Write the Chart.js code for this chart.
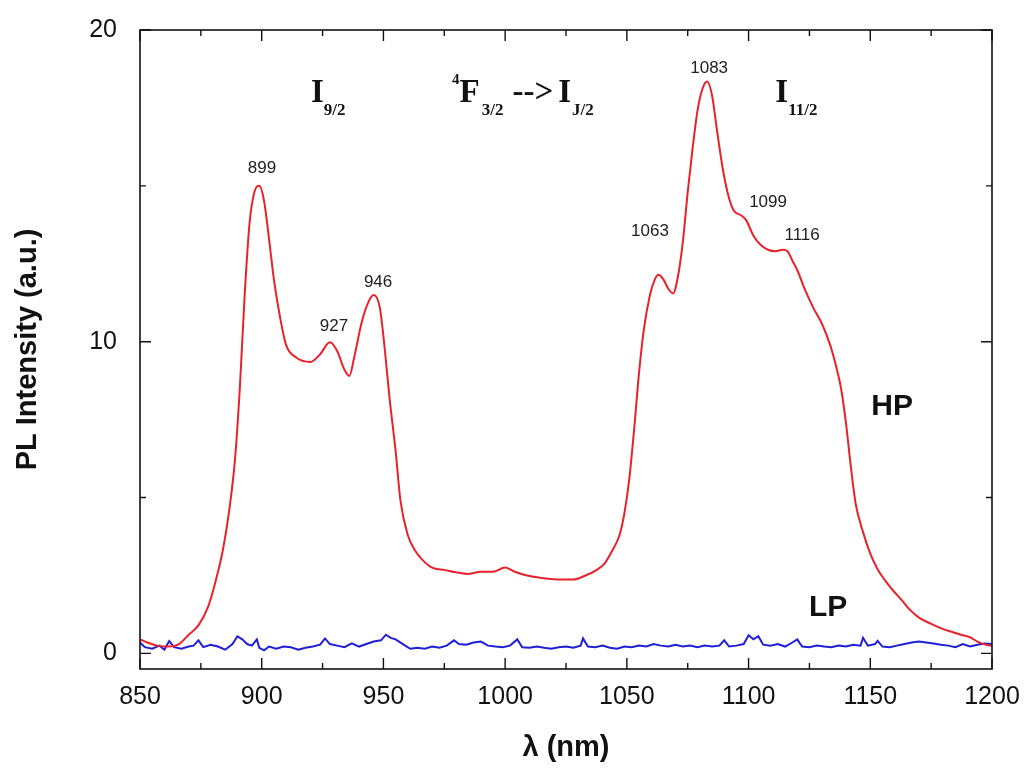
<!DOCTYPE html>
<html>
<head>
<meta charset="utf-8">
<title>PL spectrum HP / LP</title>
<script src="https://cdn.jsdelivr.net/npm/chart.js@4.4.1/dist/chart.umd.min.js"></script>
<style>
  html, body { margin: 0; padding: 0; background: #fff; }
  #wrap { position: relative; width: 1030px; height: 774px; }
</style>
</head>
<body>
<div id="wrap"><canvas id="pl"></canvas></div>
<script>
// ---- data ----
// HP spectrum (red)
const hpWave = [850, 853, 857, 862, 866, 870, 874, 878, 881, 884, 887, 889, 891, 893, 895, 897, 899, 901, 903, 905,
  907.5, 910, 914, 920, 924, 928, 931, 934, 936, 938, 941, 944, 946, 948.5, 950.5, 952.5, 955, 957, 960, 963,
  966, 970, 975, 980, 985, 990, 995, 1000, 1004, 1009, 1015, 1020, 1028, 1033, 1037, 1041, 1044, 1047, 1049, 1051,
  1053, 1055, 1057, 1059.5, 1061.5, 1063, 1065, 1067, 1069, 1071, 1073, 1075, 1077, 1079, 1081, 1083, 1085, 1087, 1089.5, 1092,
  1094, 1097, 1099, 1102, 1105, 1108, 1111, 1114, 1116, 1118, 1120, 1123, 1126.5, 1130, 1133.5, 1136, 1138, 1140, 1142, 1144,
  1147, 1150, 1153, 1156, 1159, 1163, 1166, 1170, 1175, 1180, 1184, 1188, 1191, 1194, 1198, 1200];
const hpVal = [0.45, 0.35, 0.25, 0.22, 0.3, 0.6, 0.9, 1.5, 2.3, 3.3, 4.8, 6.2, 8.5, 11.5, 13.8, 14.8, 15.0, 14.5, 13.3, 12.0,
  10.8, 9.9, 9.5, 9.35, 9.6, 9.98, 9.7, 9.1, 8.9, 9.5, 10.6, 11.3, 11.5, 11.1, 9.8, 8.2, 6.5, 4.9, 3.8, 3.3,
  3.0, 2.75, 2.68, 2.6, 2.55, 2.62, 2.62, 2.76, 2.62, 2.5, 2.42, 2.38, 2.37, 2.5, 2.65, 2.9, 3.3, 3.8, 4.5, 5.6,
  7.2, 9.0, 10.4, 11.5, 12.0, 12.15, 12.0, 11.7, 11.55, 12.1, 13.2, 14.8, 16.2, 17.4, 18.1, 18.35, 17.9, 16.8, 15.5, 14.6,
  14.2, 14.05, 13.9, 13.4, 13.1, 12.95, 12.9, 12.95, 12.9, 12.6, 12.3, 11.7, 11.1, 10.6, 9.9, 9.2, 8.5, 7.4, 6.0, 4.8,
  3.9, 3.2, 2.7, 2.35, 2.05, 1.7, 1.42, 1.15, 0.95, 0.78, 0.68, 0.58, 0.52, 0.38, 0.27, 0.25];

// LP spectrum (blue, noisy baseline)
const lpWave = [850, 852, 855, 858, 860, 862, 864, 867, 870, 872, 874, 876, 879, 882, 885, 888, 890, 892, 894, 896,
  898, 899, 901, 903, 906, 909, 912, 915, 918, 921, 924, 926, 928, 931, 934, 937, 940, 943, 946, 949,
  951, 953, 955, 958, 961, 964, 967, 970, 973, 976, 979, 981, 984, 987, 990, 993, 996, 999, 1002, 1005,
  1007, 1010, 1013, 1016, 1019, 1022, 1025, 1028, 1031, 1032, 1034, 1037, 1040, 1043, 1046, 1049, 1052, 1055, 1058, 1061,
  1064, 1067, 1070, 1073, 1076, 1079, 1082, 1085, 1088, 1090, 1092, 1095, 1098, 1100, 1102, 1104, 1106, 1109, 1112, 1115,
  1118, 1120, 1122, 1125, 1128, 1131, 1134, 1137, 1140, 1143, 1146, 1147, 1149, 1152, 1153, 1155, 1158, 1161, 1164, 1167,
  1170, 1173, 1176, 1179, 1182, 1185, 1188, 1191, 1194, 1197, 1200];
const lpVal = [0.35, 0.2, 0.15, 0.25, 0.12, 0.4, 0.2, 0.15, 0.22, 0.25, 0.42, 0.2, 0.28, 0.22, 0.12, 0.3, 0.55, 0.45, 0.3, 0.25,
  0.45, 0.18, 0.1, 0.22, 0.15, 0.22, 0.2, 0.12, 0.18, 0.22, 0.28, 0.48, 0.3, 0.25, 0.2, 0.32, 0.22, 0.3, 0.38, 0.42,
  0.6, 0.5, 0.45, 0.3, 0.15, 0.18, 0.15, 0.22, 0.18, 0.25, 0.42, 0.3, 0.28, 0.35, 0.38, 0.25, 0.22, 0.2, 0.25, 0.45,
  0.2, 0.18, 0.22, 0.18, 0.15, 0.2, 0.22, 0.18, 0.25, 0.48, 0.22, 0.2, 0.25, 0.18, 0.15, 0.22, 0.2, 0.25, 0.22, 0.3,
  0.25, 0.22, 0.28, 0.22, 0.25, 0.2, 0.25, 0.22, 0.25, 0.42, 0.22, 0.25, 0.3, 0.58, 0.45, 0.55, 0.28, 0.25, 0.3, 0.22,
  0.35, 0.45, 0.22, 0.2, 0.25, 0.22, 0.2, 0.25, 0.22, 0.28, 0.25, 0.5, 0.25, 0.3, 0.4, 0.22, 0.2, 0.25, 0.3, 0.35,
  0.38, 0.35, 0.32, 0.28, 0.25, 0.2, 0.3, 0.22, 0.28, 0.32, 0.3];

// axes
const xMajor = [850, 900, 950, 1000, 1050, 1100, 1150, 1200];
const xMinor = [875, 925, 975, 1025, 1075, 1125, 1175];
const yMajor = [0, 10, 20];
const yMinor = [5, 15];

// peak annotations: text, wavelength, intensity (text baseline)
const peakText = ['899', '927', '946', '1063', '1083', '1099', '1116'];
const peakX    = [900.1, 929.7, 947.8, 1059.5, 1083.8, 1108, 1122];
const peakY    = [15.4, 10.34, 11.75, 13.38, 18.61, 14.31, 13.25];

// ---- helpers ----
const pairs = (xs, ys) => xs.map((x, i) => ({ x, y: ys[i] }));
const SERIF = "'Liberation Serif', 'Times New Roman', serif";
const SANS  = "'Liberation Sans', Arial, sans-serif";

// frame + inward ticks on all four sides
const framePlugin = {
  id: 'frame',
  afterDraw(chart) {
    const { ctx, chartArea: a, scales: { x, y } } = chart;
    ctx.save();
    ctx.strokeStyle = '#111';
    ctx.lineWidth = 1.6;
    ctx.strokeRect(a.left, a.top, a.right - a.left, a.bottom - a.top);
    ctx.lineWidth = 1.4;
    ctx.beginPath();
    const tx = (v, len) => {
      const px = x.getPixelForValue(v);
      ctx.moveTo(px, a.bottom); ctx.lineTo(px, a.bottom - len);
      ctx.moveTo(px, a.top);    ctx.lineTo(px, a.top + len);
    };
    const ty = (v, len) => {
      const py = y.getPixelForValue(v);
      ctx.moveTo(a.left, py);  ctx.lineTo(a.left + len, py);
      ctx.moveTo(a.right, py); ctx.lineTo(a.right - len, py);
    };
    xMajor.forEach(v => tx(v, 11));
    xMinor.forEach(v => tx(v, 6));
    yMajor.forEach(v => ty(v, 11));
    yMinor.forEach(v => ty(v, 6));
    ctx.stroke();
    ctx.restore();
  }
};

// draw a run of text pieces: [text, font, dy, gapBefore]
function drawRun(ctx, x0, y0, pieces) {
  let cx = x0;
  pieces.forEach(([t, font, dy, gap]) => {
    ctx.font = font;
    cx += gap || 0;
    ctx.fillText(t, cx, y0 + dy);
    cx += ctx.measureText(t).width;
  });
}

const labelPlugin = {
  id: 'labels',
  afterDatasetsDraw(chart) {
    const { ctx, scales: { x, y } } = chart;
    ctx.save();
    ctx.fillStyle = '#222';
    ctx.textAlign = 'center';
    ctx.textBaseline = 'alphabetic';
    ctx.font = '17px ' + SANS;
    peakText.forEach((t, i) => ctx.fillText(t, x.getPixelForValue(peakX[i]), y.getPixelForValue(peakY[i])));

    ctx.fillStyle = '#111';
    ctx.font = 'bold 30px ' + SANS;
    ctx.textBaseline = 'middle';
    ctx.fillText('HP', x.getPixelForValue(1159), y.getPixelForValue(7.9));
    ctx.fillText('LP', x.getPixelForValue(1132.7), y.getPixelForValue(1.47));

    // transition labels (serif, sub/superscripts)
    ctx.textAlign = 'left';
    ctx.textBaseline = 'alphabetic';
    const big = 'bold 33px ' + SERIF, sub = 'bold 17px ' + SERIF, sup = 'bold 15px ' + SERIF;
    const base = y.getPixelForValue(17.7);
    drawRun(ctx, x.getPixelForValue(920.2), base, [['I', big, 0], ['9/2', sub, 13]]);
    drawRun(ctx, x.getPixelForValue(978.2), base, [['4', sup, -18], ['F', big, 0], ['3/2', sub, 13, 2],
      ['-->', big, 0, 9], ['I', big, 0, 5], ['J/2', sub, 13, 1]]);
    drawRun(ctx, x.getPixelForValue(1111), base, [['I', big, 0], ['11/2', sub, 13]]);
    ctx.restore();
  }
};

new Chart(document.getElementById('pl'), {
  type: 'line',
  data: {
    datasets: [
      { label: 'HP', data: pairs(hpWave, hpVal), borderColor: '#e8222c', borderWidth: 2,
        pointRadius: 0, cubicInterpolationMode: 'monotone', fill: false },
      { label: 'LP', data: pairs(lpWave, lpVal), borderColor: '#1f1fd6', borderWidth: 2,
        pointRadius: 0, tension: 0, fill: false }
    ]
  },
  options: {
    responsive: true, maintainAspectRatio: false, animation: false,
    layout: { padding: { top: 30, right: 38, left: 0, bottom: 0 } },
    plugins: { legend: { display: false }, tooltip: { enabled: false } },
    scales: {
      x: {
        type: 'linear', min: 850, max: 1200,
        afterBuildTicks: s => { s.ticks = xMajor.map(v => ({ value: v })); },
        afterFit: s => { s.height = 105; },
        grid: { display: false }, border: { display: false },
        ticks: { color: '#111', font: { family: SANS, size: 25 }, padding: 5, maxRotation: 0, callback: v => String(v) },
        title: { display: true, text: 'λ (nm)', color: '#111', font: { family: SANS, size: 29, weight: 'bold' },
                 padding: { top: 0, bottom: 9 } }
      },
      y: {
        type: 'linear', min: -0.5, max: 20,
        afterBuildTicks: s => { s.ticks = yMajor.map(v => ({ value: v })); },
        afterFit: s => { s.width = 140; },
        grid: { display: false }, border: { display: false },
        ticks: { color: '#111', font: { family: SANS, size: 25 }, padding: 15, callback: v => String(v) },
        title: { display: true, text: 'PL Intensity (a.u.)', color: '#111', font: { family: SANS, size: 29, weight: 'bold' },
                 padding: { top: 11, bottom: 0 } }
      }
    }
  },
  plugins: [framePlugin, labelPlugin]
});
</script>
</body>
</html>
